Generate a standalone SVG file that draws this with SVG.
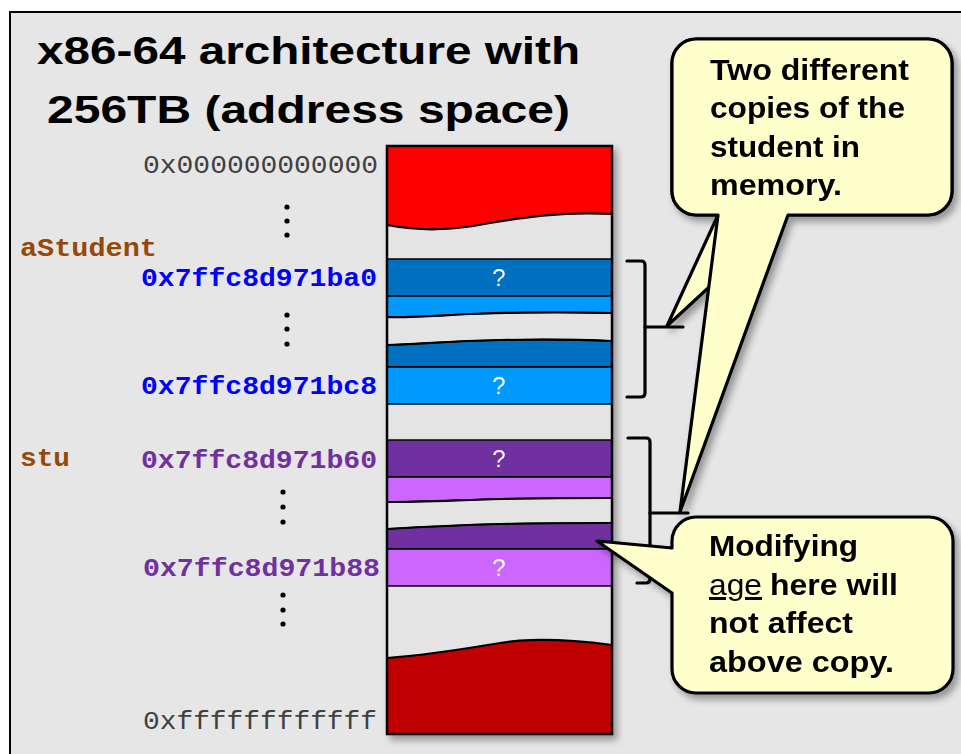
<svg xmlns="http://www.w3.org/2000/svg" width="961" height="754" viewBox="0 0 961 754">
  <defs>
    <filter id="shadow" x="-10%" y="-10%" width="130%" height="130%" color-interpolation-filters="sRGB">
      <feDropShadow dx="4" dy="5" stdDeviation="3.5" flood-color="#000" flood-opacity="0.35"/>
    </filter>
    <style>
      .title { font-family: "Liberation Sans", Arial, sans-serif; font-weight: bold; font-size: 39px; fill: #000; }
      .addr { font-family: "Liberation Mono", "Courier New", monospace; font-size: 26px; }
      .plain { fill: #404040; }
      .blue { fill: #0000ff; font-weight: bold; }
      .purple { fill: #7030a0; font-weight: bold; }
      .var { font-family: "Liberation Mono", "Courier New", monospace; font-size: 26px; font-weight: bold; fill: #974806; }
      .q { font-family: "Liberation Sans", Arial, sans-serif; font-size: 24px; fill: #fff; text-anchor: middle; }
      .seg { stroke: #000; stroke-width: 1.5; }
      .wave { fill: none; stroke: #000; stroke-width: 2.2; }
      .bubble { fill: #ffffcc; stroke: #000; stroke-width: 3.2; stroke-linejoin: round; }
      .note { font-family: "Liberation Sans", Arial, sans-serif; font-weight: bold; font-size: 30px; fill: #000; }
      .brace { fill: none; stroke: #000; stroke-width: 3.2; stroke-linecap: round; stroke-linejoin: round; }
      .dot { fill: #000; }
    </style>
  </defs>

  <!-- page -->
  <rect x="0" y="0" width="961" height="754" fill="#ffffff"/>
  <rect id="frame" x="10" y="12" width="960" height="760" fill="#e6e6e6" stroke="#000" stroke-width="2"/>

  <!-- heading -->
  <g id="title">
    <text class="title" x="37" y="64" textLength="543" lengthAdjust="spacingAndGlyphs">x86-64 architecture with</text>
    <text class="title" x="47" y="123" textLength="523" lengthAdjust="spacingAndGlyphs">256TB (address space)</text>
  </g>

  <!-- address labels -->
  <g id="addr-low">
    <text class="addr plain" x="143" y="173" textLength="235" lengthAdjust="spacingAndGlyphs">0x000000000000</text>
  </g>
  <g id="var-aStudent">
    <text class="var" x="20" y="256" textLength="137" lengthAdjust="spacingAndGlyphs">aStudent</text>
  </g>
  <g id="addr-ba0">
    <text class="addr blue" x="141" y="286" textLength="236" lengthAdjust="spacingAndGlyphs">0x7ffc8d971ba0</text>
  </g>
  <g id="addr-bc8">
    <text class="addr blue" x="141" y="394" textLength="236" lengthAdjust="spacingAndGlyphs">0x7ffc8d971bc8</text>
  </g>
  <g id="var-stu">
    <text class="var" x="20" y="466" textLength="50" lengthAdjust="spacingAndGlyphs">stu</text>
  </g>
  <g id="addr-b60">
    <text class="addr purple" x="141" y="468" textLength="236" lengthAdjust="spacingAndGlyphs">0x7ffc8d971b60</text>
  </g>
  <g id="addr-b88">
    <text class="addr purple" x="143" y="576" textLength="237" lengthAdjust="spacingAndGlyphs">0x7ffc8d971b88</text>
  </g>
  <g id="addr-high">
    <text class="addr plain" x="143" y="729" textLength="234" lengthAdjust="spacingAndGlyphs">0xffffffffffff</text>
  </g>

  <!-- vertical ellipses -->
  <g id="ellipses">
    <circle class="dot" cx="287" cy="207" r="2.6"/>
    <circle class="dot" cx="287" cy="221" r="2.6"/>
    <circle class="dot" cx="287" cy="235" r="2.6"/>
    <circle class="dot" cx="287" cy="315" r="2.6"/>
    <circle class="dot" cx="287" cy="329" r="2.6"/>
    <circle class="dot" cx="287" cy="344" r="2.6"/>
    <circle class="dot" cx="283" cy="492" r="2.6"/>
    <circle class="dot" cx="283" cy="507" r="2.6"/>
    <circle class="dot" cx="283" cy="522" r="2.6"/>
    <circle class="dot" cx="283" cy="595" r="2.6"/>
    <circle class="dot" cx="283" cy="610" r="2.6"/>
    <circle class="dot" cx="283" cy="624" r="2.6"/>
  </g>

  <!-- memory column -->
  <g id="memory" filter="url(#shadow)">
    <rect x="387" y="146" width="225" height="588" fill="#e4e4e4" stroke="#000" stroke-width="2"/>
    <!-- low addresses -->
    <path d="M387,146 H612 V214 C580,212 540,214 490,223 C450,231 420,231 387,225 Z" fill="#ff0000"/>
    <path class="wave" d="M387,225 C420,231 450,231 490,223 C540,214 580,212 612,214"/>
    <!-- aStudent copy -->
    <rect class="seg" x="387" y="259" width="225" height="37" fill="#0070c0"/>
    <path d="M387,296 H612 V313 C570,312 520,312 470,314 C430,316 405,318 387,317 Z" fill="#0099ff" stroke="#000" stroke-width="1.5"/>
    <path class="wave" d="M387,317 C405,318 430,316 470,314 C520,312 570,312 612,313"/>
    <path d="M387,345 C420,344 450,341 500,340 C550,339 590,340 612,341 V367 H387 Z" fill="#0070c0" stroke="#000" stroke-width="1.5"/>
    <path class="wave" d="M387,345 C420,344 450,341 500,340 C550,339 590,340 612,341"/>
    <rect class="seg" x="387" y="367" width="225" height="37" fill="#0099ff"/>
    <!-- stu copy -->
    <rect class="seg" x="387" y="440" width="225" height="37" fill="#7030a0"/>
    <path d="M387,477 H612 V498 C570,498 530,498 500,499 C460,500 420,502 387,502 Z" fill="#cc66ff" stroke="#000" stroke-width="1.5"/>
    <path class="wave" d="M387,502 C420,502 460,500 500,499 C530,498 570,498 612,498"/>
    <path d="M387,529 C420,527 460,525 500,524 C550,523 590,523 612,523 V549 H387 Z" fill="#7030a0" stroke="#000" stroke-width="1.5"/>
    <path class="wave" d="M387,529 C420,527 460,525 500,524 C550,523 590,523 612,523"/>
    <rect class="seg" x="387" y="549" width="225" height="37" fill="#cc66ff"/>
    <!-- high addresses -->
    <path d="M387,658 C430,655 470,648 500,643 C530,638 565,639 612,645 V734 H387 Z" fill="#c00000"/>
    <path class="wave" d="M387,658 C430,655 470,648 500,643 C530,638 565,639 612,645"/>
    <rect x="387" y="146" width="225" height="588" fill="none" stroke="#000" stroke-width="2.5"/>
    <!-- field values -->
    <text class="q" x="499" y="286">?</text>
    <text class="q" x="499" y="394">?</text>
    <text class="q" x="499" y="467">?</text>
    <text class="q" x="499" y="576">?</text>
  </g>

  <!-- connectors: grouping braces -->
  <g id="connectors">
    <path class="brace" d="M627,261 H641 Q645,261 645,265 V393 Q645,397 641,397 H627"/>
    <path class="brace" d="M645,327 H683"/>
    <path class="brace" d="M628,438 H646 Q650,438 650,442 V579 Q650,583 646,583 H637"/>
    <path class="brace" d="M650,513 H688"/>
  </g>

  <!-- callout: two copies -->
  <g id="callout-copies" filter="url(#shadow)">
    <path class="bubble" d="M696,39 H928 A24,24 0 0 1 952,63 V191 A24,24 0 0 1 928,215 H787 L667,326 L718,215 H696 A24,24 0 0 1 672,191 V63 A24,24 0 0 1 696,39 Z"/>
    <path class="bubble" d="M696,39 H928 A24,24 0 0 1 952,63 V191 A24,24 0 0 1 928,215 H788 L680,512 L718,215 H696 A24,24 0 0 1 672,191 V63 A24,24 0 0 1 696,39 Z"/>
    <text class="note" x="710" y="80" textLength="199" lengthAdjust="spacingAndGlyphs">Two different</text>
    <text class="note" x="710" y="118" textLength="195" lengthAdjust="spacingAndGlyphs">copies of the</text>
    <text class="note" x="710" y="157" textLength="150" lengthAdjust="spacingAndGlyphs">student in</text>
    <text class="note" x="710" y="195" textLength="132" lengthAdjust="spacingAndGlyphs">memory.</text>
  </g>

  <!-- callout: modifying age -->
  <g id="callout-modify" filter="url(#shadow)">
    <path class="bubble" d="M696,517 H929 A24,24 0 0 1 953,541 V669 A24,24 0 0 1 929,693 H696 A24,24 0 0 1 672,669 V593 L597,541 L672,548 V541 A24,24 0 0 1 696,517 Z"/>
    <text class="note" x="709" y="556" textLength="149" lengthAdjust="spacingAndGlyphs">Modifying</text>
    <text class="note" x="709" y="595" style="font-weight:normal" text-decoration="underline" textLength="53" lengthAdjust="spacingAndGlyphs">age</text>
    <text class="note" x="770" y="595" textLength="128" lengthAdjust="spacingAndGlyphs">here will</text>
    <text class="note" x="709" y="633" textLength="144" lengthAdjust="spacingAndGlyphs">not affect</text>
    <text class="note" x="709" y="672" textLength="185" lengthAdjust="spacingAndGlyphs">above copy.</text>
  </g>
</svg>
